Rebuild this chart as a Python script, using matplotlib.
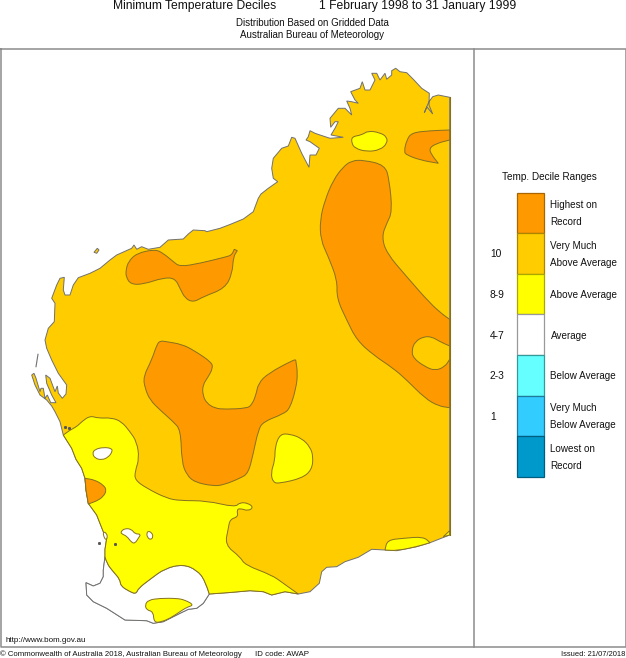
import matplotlib
matplotlib.use('Agg')
import matplotlib.pyplot as plt
from matplotlib.path import Path
from matplotlib.patches import PathPatch

plt.rcParams['font.family'] = ['Liberation Sans', 'DejaVu Sans']

# coast in image pixels
coast_north = [(449.7,97.3),(438.3,95),(432.7,96.7),(429,101.7),(426.7,106.7),(424.3,112.7),(427,107),(432.7,114),
    (429,105),(429.3,93.3),(421.7,88.3),(413.3,79.3),(406.7,72.7),(400,71.7),(395.7,68.3),(391.7,70.7),(391.7,75),
    (386.7,79.3),(385,73.3),(380,80),(376.7,73.3),(371.7,73.3),(375,80),(370,90),(365,90),(362.3,81.7),(360,88.3),
    (350.7,91.7),(355,100),(358.3,103.3),(351.7,101.7),(346.7,101),(350,108.3),(351.7,115),(345,108.3),(338.3,108.3),
    (330,118.3),(330.7,127.3),(335,121.7),(338.3,121.7),(335,128.3),(331,135),(343.3,137.3),(330,138.3),(320,135),
    (315,133.3),(310,130.7),(308.3,136.7),(306,140),(310,141.7),(319.3,148.3),(316,155),(310,155),(309,167.3),
    (301.7,153.3),(295,138.3),(291.7,137.3),(288.3,146),(281.7,148.3),(273.3,158.3),(271.7,168.3),(273.3,178.3),
    (277.7,181.7),(268.3,188.3),(261,194),(258.3,198.3),(253.3,211.7),(243.3,219),(230,224.5),(220,228.3),
    (206.7,231.7),(205,230.7),(193.3,230),(188.3,234),(183.3,239),(168.3,240),(160,247.3),(148.3,249.3),(141.7,246.7),
    (136.7,249.3),(134,245),(131.7,248.3),(116.7,255),(110,260),(100,268.3),(90,273.3),(78.3,277.7),(73.3,285),
    (70,295),(65,295),(63.3,290),(64.3,277.3),(60,278.3),(56.7,285),(51.7,298.3),(55,303.3),(54.3,321.7),(48.3,328.3),
    (45,340),(46.7,348.3),(51.7,360),(58.3,373.3),(66.7,385),(66,394),(62.3,398.3),(58.3,393),(57.3,386),(55,391.7),
    (50,378.3),(45.7,375),(46.7,383.3),(51.7,395),(56,402.7),(50.7,402.7),(47.3,395),(45,398.3),(43.3,388.3),(41,388.3),
    (40,391.7),(36,378.3),(34,373.3),(31.7,375),(35,385),(40,395),(46.7,400),(51.7,406),(55,411.7),(60,421.7),(63.3,435)]
coast_west = [(63.3,435),(71.7,448.3),(76,459.3),(81.7,468.3),(85,478.3),(86,490),(88.3,503.3),(96.7,515),(103.3,531.7),
    (106.7,538.3),(105,549.3),(105,556.7)]
coast_sw = [(105,556.7),(103.3,570),(103.3,576.7),(100,583.3),(93.3,586),(86,582.7),(86.7,595),(93.3,601.7),(106.7,608.3),
    (125,620),(146.7,620.7),(153.3,623.3),(163.3,621.7),(180,613.3),(188.3,609.3),(196.7,608.3),(203.3,603.3),(209.3,594)]
coast_se1 = [(209.3,594),(230,592.5),(250,590.7),(263.3,591.7),(271.7,595),(285,591.7),(298.3,594)]
coast_se2 = [(298.3,594),(310,591.7),(319.3,583.3),(321.7,571.7),(326.7,567.3),(336.7,566.7),(345,561.7),(358.3,557.3),
    (371.7,549.3),(385,550),(396.7,550.7),(416.7,546.7),(430,542.7),(449.7,535)]
island_north = [(94,252.3),(97.3,248.3),(99,250),(96.7,253.3)]
island_shark = [(38,354.3),(36,366.7)]
coast_dots = [(65,426.7),(69.3,428.3),(99,542.7),(115,544)]

# decile 8-9 area in the south west
yellow_edge = [(63.3,435),(70,430),(76.7,426.7),(81.7,421.7),(90,415.7),(98.3,418.3),(111.7,417.7),(121.7,421.7),(130,431.7),
    (136.7,441.7),(139.3,458.3),(135,471.7),(135,480),(146.7,488.3),(166.7,498.3),(180,500.7),(206.7,500.7),(235,507.3),
    (240,502.3),(248.3,503.3),(253.3,507.3),(248.3,511),(240,508.3),(236.7,510),(238.3,516.7),(230,519.3),(228.3,528.3),
    (225,545),(240,556.7),(245,565),(271.7,575),(283.3,583.3),(298.3,594)]
white_edge = [(105,556.7),(106.7,563.3),(113.3,571.7),(120,579.3),(120.7,586),(130,591.7),(136,594),(138.3,588.3),(150,579.3),
    (165,568.3),(183.3,564.3),(196.7,570),(205,580),(209.3,594)]
yellow_south = [(145,605),(148.3,600),(160,598.3),(176.7,598.3),(185,600),(194,605),(186.7,607.3),(180,611.7),(170,618.3),
    (161.7,621.7),(154,622.7),(153.3,611.7),(146.7,610)]
yellow_north = [(351.7,136.7),(361.7,135),(368.3,130.7),(380,132.7),(386.7,136.7),(387.3,143.3),(380,150),(366.7,151.7),
    (355,148.3),(351.7,143.3)]
yellow_middle = [(280,434),(290,434),(301.7,438.3),(310,446.7),(313.3,456.7),(311.7,470),(301.7,478.3),(280,483.3),
    (273.3,482.7),(270.7,473.3),(275,460),(275,446.7)]
yellow_se = [(385,550),(385,550),(387.3,540),(403.3,538.3),(423.3,536.7),(430,542.7),(430,542.7),(416.7,546.7),(396.7,550.7)]
yellow_corner = [(443.3,536.7),(443.3,536.7),(449.7,530.7),(449.7,530.7),(449.7,535),(449.7,535)]

# white holes inside the yellow
white_hole_a = [(92.3,453.3),(95,449.3),(103.3,447.3),(111.7,448.3),(112.3,451.7),(108.3,457.3),(101.7,460),(95,458.3)]
white_hole_b = [(120.7,531.7),(125,528.3),(131.7,529.3),(135,534),(141,534),(138.3,538.3),(135,543.3),(131.7,542.7),
    (126.7,536),(121.7,534)]
white_hole_c = [(148.3,531),(151.7,532.7),(153.3,536.7),(150.7,540),(147.3,537.3),(146.7,533.3)]
white_hole_d = [(102.5,531.7),(106.7,533),(107.5,538.3),(105,540)]

# highest on record areas, a repeated point keeps a sharp corner
orange_west = [(126,270),(128.3,261.7),(136.7,253.3),(155,249.3),(163.3,253.3),(173.3,261.7),(180,266.7),(200,263.3),
    (226.7,256.7),(231.7,255),(234.3,249.3),(234.3,249.3),(237.3,250.7),(237.3,250.7),(233.3,256.7),(232.3,273.3),(225,288.3),
    (203.3,296.7),(193.3,302.3),(185,298.3),(180,288.3),(175,278.3),(163.3,277.7),(143.3,284.3),(130.7,284.3),(126,276.7)]
orange_east = [(343.3,166.7),(351.7,160.7),(363.3,160),(385,165),(389.3,180),(392.3,211.7),(386.7,223.3),(381.7,236.7),
    (386.7,253.3),(406.7,276.7),(430,303.3),(443.3,315),(449.7,319.3),(449.7,319.3),(449.7,407.7),(449.7,407.7),(438.3,406),
    (425,398.3),(406.7,380),(393.3,368.3),(373.3,355),(356.7,340),(346.7,320),(336.7,298.3),(337.3,280),(328.3,256.7),
    (320.7,240),(320,220),(325,200),(333.3,180)]
orange_east_hole = [(411.7,350),(415,341.7),(423.3,336.7),(431.7,336.7),(440,341.7),(449.7,346),(449.7,346),(449.7,359.3),
    (449.7,359.3),(445,366.7),(435,370.7),(425,366.7),(413.3,358.3)]
orange_ne = [(411.7,132.7),(430,130.7),(449.7,130),(449.7,130),(449.7,140),(449.7,140),(436.7,143.3),(429,148.3),(431.7,155),
    (438.3,163.3),(438.3,163.3),(420,160),(406.7,155),(404,151.7),(406.7,140)]
orange_middle = [(160,340.7),(166.7,341.7),(181.7,344.3),(193.3,350),(211.7,362.3),(212.7,368.3),(208.3,376.7),(202.7,385),
    (202.7,395),(206.7,403.3),(215,408.3),(225,409.3),(246.7,408.3),(251.7,405),(256,395),(258.3,383.3),(268.3,373.3),
    (293.3,360),(295.7,360),(295.7,360),(297.7,373.3),(296,388.3),(290,408.3),(283.3,414),(263.3,421.7),(258.3,430),
    (253.3,453.3),(248.3,473.3),(240,478.3),(223.3,485),(213.3,486),(195,482.3),(186.7,475),(181.7,461.7),(180.7,430),
    (173.3,421.7),(160,410),(150,400),(145,388.3),(143.3,376.7),(151.7,360),(156.7,345)]
orange_sw = [(85,478.3),(85,478.3),(95,480),(103.3,485),(106.7,490),(103.3,496.7),(96.7,501),(88.3,504),(88.3,504),(86,490),(86,490)]

# legend
decile_colors = ['#FF9900', '#FFCC00', '#FFFF00', '#FFFFFF', '#66FFFF', '#33CCFF', '#0099CC']
decile_edges = ['#A86500', '#A88600', '#A8A800', '#999999', '#339999', '#1F7A99', '#005F80']
decile_labels = ['Highest on\nRecord', 'Very Much\nAbove Average', 'Above Average', 'Average', 'Below Average',
    'Very Much\nBelow Average', 'Lowest on\nRecord']
decile_ranges = ['', '10', '8-9', '4-7', '2-3', '1', '']

GOLD, YELLOW, ORANGE = '#FFCC00', '#FFFF00', '#FF9900'
contour = '#857020'
coast_col = '#707070'
frame_col = '#8c8c8c'
text_col = '#111111'

fig = plt.figure(figsize=(6.26, 6.58), dpi=100)
ax = fig.add_axes([0, 0, 1, 1])
ax.set_xlim(0, 626)
ax.set_ylim(658, 0)
ax.axis('off')


def mid(a, b):
    return ((a[0] + b[0]) / 2, (a[1] + b[1]) / 2)


def add_segment(verts, codes, pts, smooth):
    # pts[0] is where the path already stands
    if not smooth:
        for p in pts[1:]:
            verts.append(p)
            codes.append(Path.LINETO)
        return
    for i in range(1, len(pts) - 1):
        end = mid(pts[i], pts[i + 1]) if i < len(pts) - 2 else pts[-1]
        verts += [pts[i], end]
        codes += [Path.CURVE3, Path.CURVE3]


def draw_path(segments, color, edge=contour, z=2):
    verts, codes = [segments[0][0][0]], [Path.MOVETO]
    for pts, smooth in segments:
        add_segment(verts, codes, pts, smooth)
    verts.append(verts[0])
    codes.append(Path.CLOSEPOLY)
    ax.add_patch(PathPatch(Path(verts, codes), facecolor=color, edgecolor=edge, linewidth=0.7, zorder=z))


def blob(points, color, z=2):
    # closed outline, rounded like the analysed contours
    start = mid(points[0], points[1])
    draw_path([([start] + points[1:] + [points[0], start], True)], color, contour, z)


# land first, then the decile areas on top
land = coast_north + coast_west + coast_sw + coast_se1 + coast_se2
draw_path([(land, False)], GOLD, coast_col, 1)
draw_path([(island_north, False)], GOLD, coast_col, 1)
xs, ys = zip(*island_shark)
ax.plot(xs, ys, color=coast_col, linewidth=0.8, zorder=1)
xs, ys = zip(*coast_dots)
ax.plot(xs, ys, ' ', marker='s', markersize=1.1, color='#555555', zorder=4)

draw_path([(coast_sw, False), (white_edge[::-1], True)], 'white', coast_col, 2)
draw_path([(yellow_edge, True), (coast_se1[::-1], False), (white_edge[::-1], True), (coast_west[::-1], False)], YELLOW, contour, 2)
for area in [yellow_south, yellow_north, yellow_middle, yellow_se, yellow_corner]:
    blob(area, YELLOW)
for hole in [white_hole_a, white_hole_b, white_hole_c, white_hole_d]:
    blob(hole, 'white')

for area in [orange_west, orange_east, orange_ne, orange_middle, orange_sw]:
    blob(area, ORANGE)
blob(orange_east_hole, GOLD, 3)
ax.plot([449.7, 449.7], [97.3, 535], color=contour, linewidth=0.8, zorder=4)

# frame
ax.plot([1, 625.5, 625.5, 1, 1], [48.5, 48.5, 647, 647, 48.5], color=frame_col, linewidth=1.1, zorder=5)
ax.plot([473.5, 473.5], [48.5, 647], color=frame_col, linewidth=1.1, zorder=5)

# titles
ax.text(113, 5.5, 'Minimum Temperature Deciles', fontsize=8.7, va='center', color=text_col)
ax.text(319, 5.5, '1 February 1998 to 31 January 1999', fontsize=8.7, va='center', color=text_col)
ax.text(312.5, 23, 'Distribution Based on Gridded Data', fontsize=7.05, va='center', ha='center', color=text_col)
ax.text(312.5, 35, 'Australian Bureau of Meteorology', fontsize=7.05, va='center', ha='center', color=text_col)

# legend
ax.text(549.5, 176.5, 'Temp. Decile Ranges', fontsize=7.2, va='center', ha='center', color=text_col)
box_top, box_h = 192.5, 40.6
for i in range(len(decile_colors)):
    top = box_top + i * box_h
    ax.bar(530.5, box_h, width=27, bottom=top, color=decile_colors[i], edgecolor=decile_edges[i], linewidth=0.9, zorder=3)
    ax.text(550.5, top + box_h / 2 + 1, decile_labels[i], fontsize=7.1, va='center', color=text_col, linespacing=1.85)
    if decile_ranges[i]:
        ax.text(490, top + box_h / 2 + 1, decile_ranges[i], fontsize=7.4, va='center', color=text_col)

# footer
ax.text(5, 640.5, 'http://www.bom.gov.au', fontsize=5.8, va='center', color=text_col)
ax.text(0.5, 654, '\u00a9 Commonwealth of Australia 2018, Australian Bureau of Meteorology', fontsize=5.55, va='center', color=text_col)
ax.text(255, 654, 'ID code: AWAP', fontsize=5.7, va='center', color=text_col)
ax.text(625.5, 654, 'Issued: 21/07/2018', fontsize=5.4, va='center', ha='right', color=text_col)

fig.savefig('out.png', dpi=100)
